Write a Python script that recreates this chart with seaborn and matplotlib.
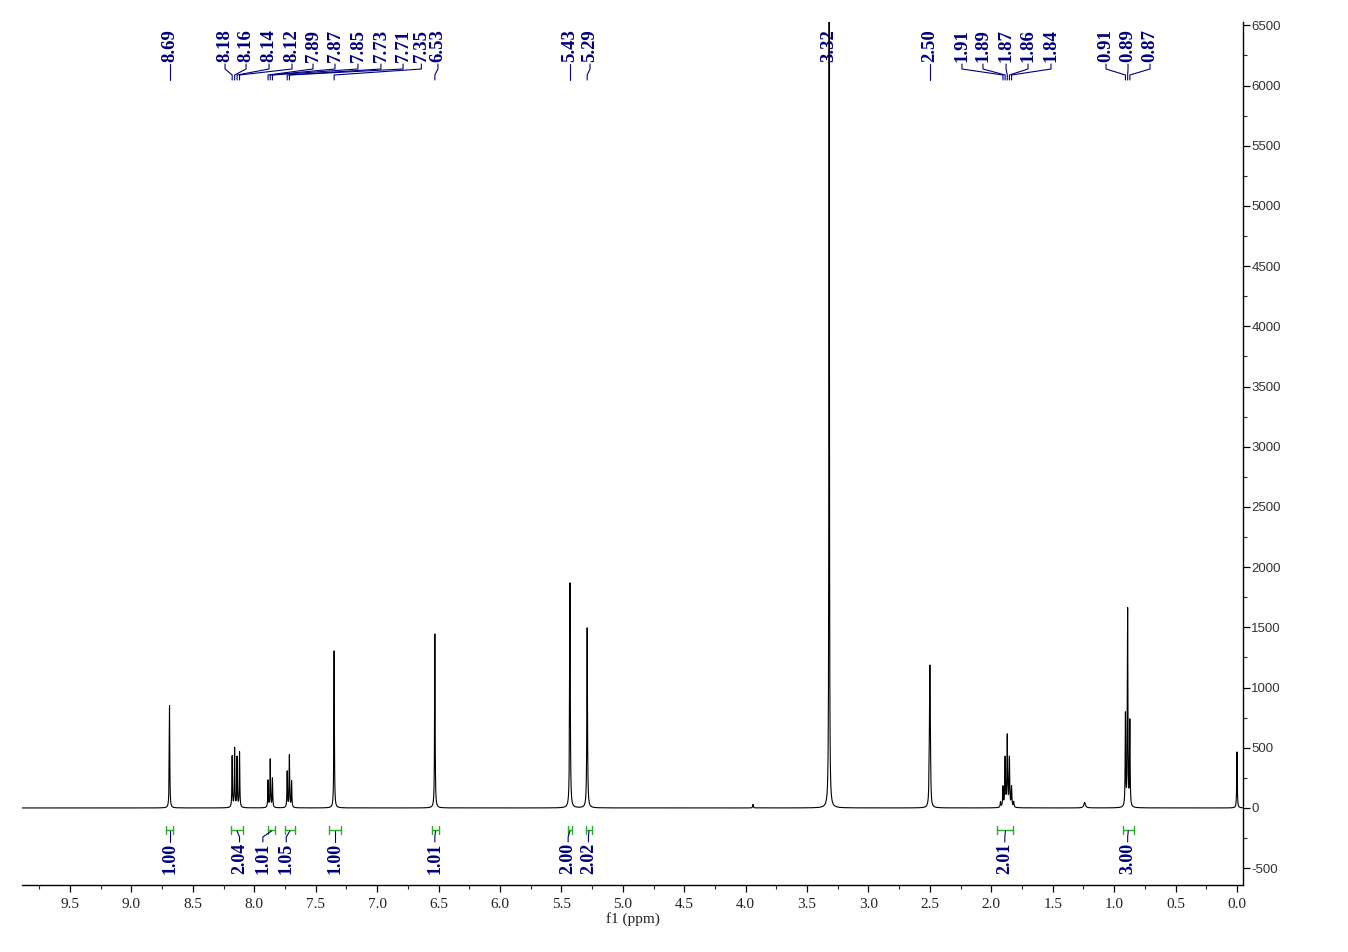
import numpy as np
import pandas as pd
import matplotlib
matplotlib.use("Agg")
import matplotlib.pyplot as plt
import matplotlib.transforms as mtransforms
from matplotlib.ticker import MultipleLocator, FormatStrFormatter
import seaborn as sns

# ---------------- data ----------------
peak_ppm = [8.69, 8.180, 8.160, 8.140, 8.120, 7.888, 7.870, 7.852, 7.732, 7.714, 7.696,
            7.35, 6.53, 5.43, 5.29, 3.94, 3.32, 2.505, 2.50, 2.495,
            1.925, 1.905, 1.8875, 1.870, 1.8525, 1.835, 1.8175,
            1.24, 0.908, 0.890, 0.872, 0.00]
peak_height = [850, 425, 490, 415, 458, 224, 399, 241, 299, 432, 218,
               1304, 1445, 1869, 1495, 30, 9000, 250, 1055, 250,
               45, 166, 405, 590, 405, 166, 45,
               45, 764, 1636, 706, 465]
peak_hwhm = [0.0025, 0.0025, 0.0025, 0.0025, 0.0025, 0.0025, 0.0025, 0.0025, 0.0025, 0.0025, 0.0025,
             0.0025, 0.0025, 0.003, 0.003, 0.003, 0.002, 0.003, 0.003, 0.003,
             0.003, 0.003, 0.003, 0.003, 0.003, 0.003, 0.003,
             0.008, 0.0025, 0.0025, 0.0025, 0.0025]

# peak labels (text, ppm of the peak they point to)
label_text = ["8.69", "8.18", "8.16", "8.14", "8.12", "7.89", "7.87", "7.85", "7.73", "7.71",
              "7.35", "6.53", "5.43", "5.29", "3.32", "2.50",
              "1.91", "1.89", "1.87", "1.86", "1.84", "0.91", "0.89", "0.87"]
label_peak = [8.69, 8.18, 8.16, 8.14, 8.12, 7.888, 7.870, 7.852, 7.732, 7.714,
              7.35, 6.53, 5.43, 5.29, 3.32, 2.50,
              1.905, 1.8875, 1.870, 1.8525, 1.835, 0.908, 0.890, 0.872]

# integrals
int_text = ["1.00", "2.04", "1.01", "1.05", "1.00", "1.01", "2.00", "2.02", "2.01", "3.00"]
int_from = [8.72, 8.19, 7.89, 7.75, 7.39, 6.55, 5.45, 5.30, 1.95, 0.93]
int_to = [8.66, 8.09, 7.83, 7.67, 7.29, 6.50, 5.41, 5.25, 1.82, 0.84]

# ---------------- layout (annotation anchor positions) ----------------
label_anchor = [8.69, 8.238, 8.067, 7.880, 7.693, 7.522, 7.343, 7.156, 6.969, 6.789,
                6.640, 6.505, 5.43, 5.267, 3.32, 2.50,
                2.239, 2.068, 1.880, 1.701, 1.514, 1.066, 0.887, 0.708]
int_anchor = [8.69, 8.12, 7.93, 7.74, 7.34, 6.53, 5.445, 5.28, 1.89, 0.89]

# ---------------- build the line shape from the peak list ----------------
grid = np.linspace(-0.06, 9.95, 40000)
x = np.sort(np.concatenate([grid, np.array(peak_ppm)]))
y = np.zeros_like(x)
for c, h, g in zip(peak_ppm, peak_height, peak_hwhm):
    y += h / (1.0 + ((x - c) / g) ** 2)
df = pd.DataFrame({"ppm": x, "intensity": y})

# ---------------- figure ----------------
sns.set_theme(style="white")
plt.rcParams["font.family"] = ["Liberation Serif", "DejaVu Serif"]

W, H = 1348, 952
fig = plt.figure(figsize=(W / 100, H / 100), dpi=100)
ax_left, ax_right, ax_top, ax_bottom = 22, 1243, 22, 885
ax = fig.add_axes([ax_left / W, 1 - ax_bottom / H, (ax_right - ax_left) / W, (ax_bottom - ax_top) / H])
ax.set_facecolor("white")

sns.lineplot(data=df, x="ppm", y="intensity", ax=ax, color="black", linewidth=0.8,
             estimator=None, sort=False, zorder=4)

ax.set_xlim(9.891, -0.049)
ax.set_ylim(-640, 6528)

for s in ["left", "top"]:
    ax.spines[s].set_visible(False)
for s in ["right", "bottom"]:
    ax.spines[s].set_visible(True)
    ax.spines[s].set_color("black")
    ax.spines[s].set_linewidth(1.0)

ax.yaxis.tick_right()
ax.yaxis.set_label_position("right")
ax.xaxis.set_major_locator(MultipleLocator(0.5))
ax.xaxis.set_minor_locator(MultipleLocator(0.25))
ax.xaxis.set_major_formatter(FormatStrFormatter("%.1f"))
yt = np.arange(-500, 6501, 500)
ax.set_yticks(yt, labels=[str(v) for v in yt], fontfamily="Liberation Sans")
ax.yaxis.set_minor_locator(MultipleLocator(250))

ax.tick_params(axis="x", which="major", direction="out", length=5, width=0.9, pad=4,
               labelsize=11, colors="black", labelcolor="#222222", bottom=True, top=False)
ax.tick_params(axis="x", which="minor", direction="out", length=3, width=0.8, bottom=True)
ax.tick_params(axis="y", which="major", direction="out", length=5, width=0.9, pad=1,
               labelsize=9.5, colors="black", labelcolor="#333333", right=True, left=False)
ax.tick_params(axis="y", which="minor", direction="out", length=3, width=0.8, right=True, left=False)
ax.grid(False)
ax.set_ylabel("")
ax.set_xlabel("f1 (ppm)", fontsize=11, labelpad=1, color="#222222")

trans = mtransforms.blended_transform_factory(ax.transData, ax.transAxes)
axh = ax_bottom - ax_top


def fy(py):
    return (ax_bottom - py) / axh


navy = "#000080"
green = "#2ea82e"

# peak labels
for txt, pk, an in zip(label_text, label_peak, label_anchor):
    ax.text(an, fy(62), txt, rotation=90, ha="center", va="bottom", color=navy,
            fontsize=13.5, fontweight="bold", transform=trans, zorder=3)
    ax.plot([an, an, pk, pk], [fy(64), fy(69), fy(75), fy(80)], color=navy, lw=0.8,
            transform=trans, zorder=3, clip_on=False)

# integrals
for txt, a, b, an in zip(int_text, int_from, int_to, int_anchor):
    ax.plot([a, b], [fy(830), fy(830)], color=green, lw=1.0, transform=trans, clip_on=False)
    ax.plot([a, a], [fy(826), fy(834)], color=green, lw=1.0, transform=trans, clip_on=False)
    ax.plot([b, b], [fy(826), fy(834)], color=green, lw=1.0, transform=trans, clip_on=False)
    mid = 0.5 * (a + b)
    ax.plot([mid, an, an], [fy(831), fy(837), fy(842)], color=navy, lw=0.8,
            transform=trans, clip_on=False)
    ax.text(an, fy(843), txt, rotation=90, ha="center", va="top", color=navy,
            fontsize=13, fontweight="bold", transform=trans)

fig.savefig("out.png", dpi=100, facecolor="white")
